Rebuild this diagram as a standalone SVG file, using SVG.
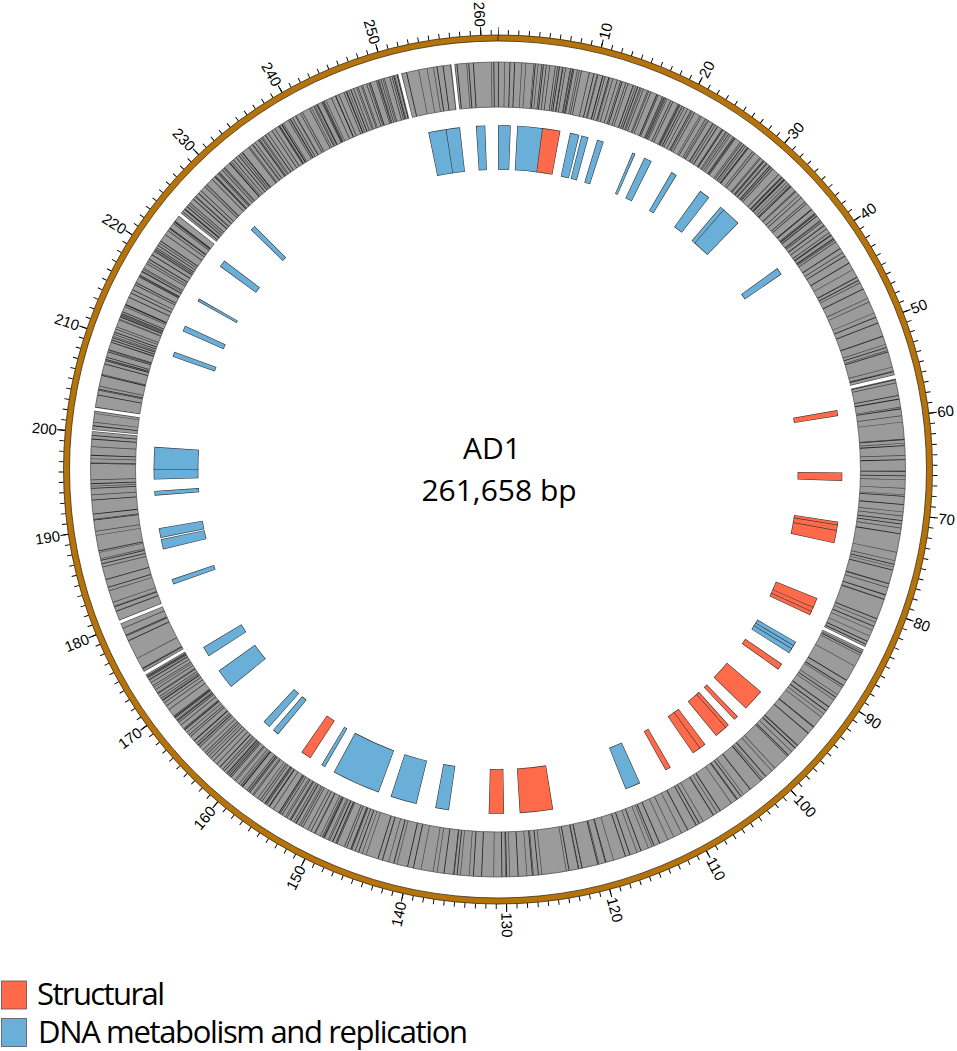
<svg xmlns="http://www.w3.org/2000/svg" width="957" height="1051" viewBox="0 0 957 1051">
<style>
.o{fill:none;stroke:#333;stroke-width:44.7}
.r{fill:none;stroke:#ff6a4b;stroke-width:43.5}
.b{fill:none;stroke:#6aafd8;stroke-width:43.5}
.lab{font-family:"Liberation Sans",Arial,sans-serif;font-size:15px;fill:#000;dominant-baseline:central}
.ls{text-anchor:start}
.le{text-anchor:end}
.big{font-family:"Open Sans","Noto Sans",sans-serif;font-size:30px;fill:#000;text-anchor:middle}
.leg{font-family:"Open Sans","Noto Sans",sans-serif;font-size:31px;fill:#000}
</style>
<defs>
<circle id="fc" cx="498" cy="469.5" r="322" pathLength="360" transform="rotate(-90 498 469.5)"/>
<circle id="gc" cx="498" cy="469.5" r="385" pathLength="261.658" transform="rotate(-90 498 469.5)"/>
<circle id="gd" cx="498" cy="469.5" r="385" pathLength="360" transform="rotate(-90 498 469.5)"/>
<clipPath id="dense">
<polygon points="498,469.5 537.2,21.2 733.1,85.8 879.6,231.0"/>
<polygon points="498,469.5 63.3,353.0 179.8,151.3 381.5,34.8"/>
<polygon points="498,469.5 344.1,892.4 208.7,814.2 108.3,694.5"/>
</clipPath>
</defs>
<rect width="957" height="1051" fill="#fff"/>

<g id="scale">
<circle cx="498" cy="469.5" r="437" pathLength="261.658" transform="rotate(-90 498 469.5)" fill="none" stroke="#000" stroke-width="5" stroke-dasharray="0.09 0.91" stroke-dashoffset="0.045"/>
<circle cx="498" cy="469.5" r="438.5" pathLength="261.658" transform="rotate(-90 498 469.5)" fill="none" stroke="#000" stroke-width="8" stroke-dasharray="0.1 9.9" stroke-dashoffset="0.05"/>
<circle cx="498" cy="469.5" r="431.5" fill="none" stroke="#b5730c" stroke-width="6"/>
<circle cx="498" cy="469.5" r="428.5" fill="none" stroke="#3b2a12" stroke-width="0.8"/>
<circle cx="498" cy="469.5" r="434.5" fill="none" stroke="#3b2a12" stroke-width="0.8"/>
<line x1="498" y1="35" x2="498" y2="41" stroke="#3b2a12" stroke-width="1"/>
<g class="lab">
<text class="ls" x="941" y="469.5" transform="rotate(-76.242 498 469.5)">10</text>
<text class="ls" x="941" y="469.5" transform="rotate(-62.483 498 469.5)">20</text>
<text class="ls" x="941" y="469.5" transform="rotate(-48.725 498 469.5)">30</text>
<text class="ls" x="941" y="469.5" transform="rotate(-34.967 498 469.5)">40</text>
<text class="ls" x="941" y="469.5" transform="rotate(-21.208 498 469.5)">50</text>
<text class="ls" x="941" y="469.5" transform="rotate(-7.45 498 469.5)">60</text>
<text class="ls" x="941" y="469.5" transform="rotate(6.308 498 469.5)">70</text>
<text class="ls" x="941" y="469.5" transform="rotate(20.067 498 469.5)">80</text>
<text class="ls" x="941" y="469.5" transform="rotate(33.825 498 469.5)">90</text>
<text class="ls" x="941" y="469.5" transform="rotate(47.583 498 469.5)">100</text>
<text class="ls" x="941" y="469.5" transform="rotate(61.342 498 469.5)">110</text>
<text class="ls" x="941" y="469.5" transform="rotate(75.1 498 469.5)">120</text>
<text class="ls" x="941" y="469.5" transform="rotate(88.858 498 469.5)">130</text>
<text class="le" x="55" y="469.5" transform="rotate(282.617 498 469.5)">140</text>
<text class="le" x="55" y="469.5" transform="rotate(296.375 498 469.5)">150</text>
<text class="le" x="55" y="469.5" transform="rotate(310.133 498 469.5)">160</text>
<text class="le" x="55" y="469.5" transform="rotate(323.892 498 469.5)">170</text>
<text class="le" x="55" y="469.5" transform="rotate(337.65 498 469.5)">180</text>
<text class="le" x="55" y="469.5" transform="rotate(351.408 498 469.5)">190</text>
<text class="le" x="55" y="469.5" transform="rotate(5.167 498 469.5)">200</text>
<text class="le" x="55" y="469.5" transform="rotate(18.925 498 469.5)">210</text>
<text class="le" x="55" y="469.5" transform="rotate(32.683 498 469.5)">220</text>
<text class="le" x="55" y="469.5" transform="rotate(46.442 498 469.5)">230</text>
<text class="le" x="55" y="469.5" transform="rotate(60.2 498 469.5)">240</text>
<text class="le" x="55" y="469.5" transform="rotate(73.958 498 469.5)">250</text>
<text class="le" x="55" y="469.5" transform="rotate(87.717 498 469.5)">260</text>
</g>
</g>

<g id="genes">
<circle cx="498" cy="469.5" r="385" fill="none" stroke="#9b9b9b" stroke-width="45"/>
<use href="#gc" fill="none" stroke="#222" stroke-width="45" stroke-dasharray="0.09 1.11 0.09 0.39 0.09 2.01 0.09 0.75 0.09 1.57 0.09 0.27 0.09 0.91 0.09 3.08 0.09 0.53 0.09 1.35"/>
<use href="#gc" fill="none" stroke="#444" stroke-width="45" stroke-dasharray="0.07 0.59 0.07 1.69 0.07 0.35 0.07 1.17 0.07 2.45 0.07 0.81"/>
<g clip-path="url(#dense)">
<use href="#gc" fill="none" stroke="#2a2a2a" stroke-width="45" stroke-dasharray="0.07 0.29 0.07 0.5 0.07 0.17 0.07 0.75 0.07 0.41"/>
</g>
<circle cx="498" cy="469.5" r="362.5" fill="none" stroke="#555" stroke-width="0.8"/>
<circle cx="498" cy="469.5" r="407.5" fill="none" stroke="#555" stroke-width="0.8"/>
<use href="#gd" fill="none" stroke="#444" stroke-width="45" stroke-dasharray="0 76.5 0.7 38.5 0.65 123.35 0.65 7.35 0.65 26.95 0.4 2.5 0.65 29.55 0.65 36.65 0.65 6.95 0.65 6.05"/>
<use href="#gd" fill="none" stroke="#fff" stroke-width="48" stroke-dasharray="0 76.6 0.5 38.7 0.45 123.55 0.45 7.55 0.45 27.15 0.2 2.7 0.45 29.75 0.45 36.85 0.45 7.15 0.45 6.15"/>
</g>

<g id="features">
<g id="f01"><use href="#fc" class="o" stroke-dasharray="3.15 999" stroke-dashoffset="-348.3"/><use href="#fc" class="b" stroke-dasharray="2.95 999" stroke-dashoffset="-348.4"/></g>
<g id="f02"><use href="#fc" class="o" stroke-dasharray="2.4 999" stroke-dashoffset="-351.25"/><use href="#fc" class="b" stroke-dasharray="2.2 999" stroke-dashoffset="-351.35"/></g>
<g id="f03"><use href="#fc" class="o" stroke-dasharray="1.55 999" stroke-dashoffset="-356.3"/><use href="#fc" class="b" stroke-dasharray="1.35 999" stroke-dashoffset="-356.4"/></g>
<g id="f04"><use href="#fc" class="o" stroke-dasharray="2.15 999" stroke-dashoffset="0"/><use href="#fc" class="b" stroke-dasharray="1.95 999" stroke-dashoffset="-0.1"/></g>
<g id="f05"><use href="#fc" class="o" stroke-dasharray="4.37 999" stroke-dashoffset="-3.23"/><use href="#fc" class="b" stroke-dasharray="4.17 999" stroke-dashoffset="-3.33"/></g>
<g id="f06"><use href="#fc" class="o" stroke-dasharray="3.05 999" stroke-dashoffset="-7.4"/><use href="#fc" class="r" stroke-dasharray="2.85 999" stroke-dashoffset="-7.5"/></g>
<g id="f07"><use href="#fc" class="o" stroke-dasharray="1.6 999" stroke-dashoffset="-12.1"/><use href="#fc" class="b" stroke-dasharray="1.4 999" stroke-dashoffset="-12.2"/></g>
<g id="f08"><use href="#fc" class="o" stroke-dasharray="1.2 999" stroke-dashoffset="-14.05"/><use href="#fc" class="b" stroke-dasharray="1.0 999" stroke-dashoffset="-14.15"/></g>
<g id="f09"><use href="#fc" class="o" stroke-dasharray="1.15 999" stroke-dashoffset="-16.75"/><use href="#fc" class="b" stroke-dasharray="0.95 999" stroke-dashoffset="-16.85"/></g>
<g id="f10"><use href="#fc" class="o" stroke-dasharray="0.55 999" stroke-dashoffset="-23"/><use href="#fc" class="b" stroke-dasharray="0.35 999" stroke-dashoffset="-23.1"/></g>
<g id="f11"><use href="#fc" class="o" stroke-dasharray="1.35 999" stroke-dashoffset="-25.16"/><use href="#fc" class="b" stroke-dasharray="1.15 999" stroke-dashoffset="-25.26"/></g>
<g id="f12"><use href="#fc" class="o" stroke-dasharray="1.0 999" stroke-dashoffset="-30.27"/><use href="#fc" class="b" stroke-dasharray="0.8 999" stroke-dashoffset="-30.37"/></g>
<g id="f13"><use href="#fc" class="o" stroke-dasharray="1.85 999" stroke-dashoffset="-35.99"/><use href="#fc" class="b" stroke-dasharray="1.65 999" stroke-dashoffset="-36.09"/></g>
<g id="f14"><use href="#fc" class="o" stroke-dasharray="0.9 999" stroke-dashoffset="-40.25"/><use href="#fc" class="b" stroke-dasharray="0.7 999" stroke-dashoffset="-40.35"/></g>
<g id="f15"><use href="#fc" class="o" stroke-dasharray="3.35 999" stroke-dashoffset="-40.95"/><use href="#fc" class="b" stroke-dasharray="3.15 999" stroke-dashoffset="-41.05"/></g>
<g id="f16"><use href="#fc" class="o" stroke-dasharray="1.25 999" stroke-dashoffset="-54.2"/><use href="#fc" class="b" stroke-dasharray="1.05 999" stroke-dashoffset="-54.3"/></g>
<g id="f17"><use href="#fc" class="o" stroke-dasharray="1.0 999" stroke-dashoffset="-80.06"/><use href="#fc" class="r" stroke-dasharray="0.8 999" stroke-dashoffset="-80.16"/></g>
<g id="f18"><use href="#fc" class="o" stroke-dasharray="1.45 999" stroke-dashoffset="-90.5"/><use href="#fc" class="r" stroke-dasharray="1.25 999" stroke-dashoffset="-90.6"/></g>
<g id="f19"><use href="#fc" class="o" stroke-dasharray="0.7 999" stroke-dashoffset="-98.75"/><use href="#fc" class="r" stroke-dasharray="0.5 999" stroke-dashoffset="-98.85"/></g>
<g id="f20"><use href="#fc" class="o" stroke-dasharray="1.1 999" stroke-dashoffset="-99.25"/><use href="#fc" class="r" stroke-dasharray="0.9 999" stroke-dashoffset="-99.35"/></g>
<g id="f21"><use href="#fc" class="o" stroke-dasharray="2.25 999" stroke-dashoffset="-100.15"/><use href="#fc" class="r" stroke-dasharray="2.05 999" stroke-dashoffset="-100.25"/></g>
<g id="f22"><use href="#fc" class="o" stroke-dasharray="1.85 999" stroke-dashoffset="-111.95"/><use href="#fc" class="r" stroke-dasharray="1.65 999" stroke-dashoffset="-112.05"/></g>
<g id="f23"><use href="#fc" class="o" stroke-dasharray="0.9 999" stroke-dashoffset="-113.6"/><use href="#fc" class="r" stroke-dasharray="0.7 999" stroke-dashoffset="-113.7"/></g>
<g id="f24"><use href="#fc" class="o" stroke-dasharray="0.75 999" stroke-dashoffset="-114.3"/><use href="#fc" class="r" stroke-dasharray="0.55 999" stroke-dashoffset="-114.4"/></g>
<g id="f25"><use href="#fc" class="o" stroke-dasharray="0.9 999" stroke-dashoffset="-120.05"/><use href="#fc" class="b" stroke-dasharray="0.7 999" stroke-dashoffset="-120.15"/></g>
<g id="f26"><use href="#fc" class="o" stroke-dasharray="0.8 999" stroke-dashoffset="-120.75"/><use href="#fc" class="b" stroke-dasharray="0.6 999" stroke-dashoffset="-120.85"/></g>
<g id="f27"><use href="#fc" class="o" stroke-dasharray="0.9 999" stroke-dashoffset="-121.35"/><use href="#fc" class="b" stroke-dasharray="0.7 999" stroke-dashoffset="-121.45"/></g>
<g id="f28"><use href="#fc" class="o" stroke-dasharray="1.15 999" stroke-dashoffset="-124.4"/><use href="#fc" class="r" stroke-dasharray="0.95 999" stroke-dashoffset="-124.5"/></g>
<g id="f29"><use href="#fc" class="o" stroke-dasharray="3.8 999" stroke-dashoffset="-130.18"/><use href="#fc" class="r" stroke-dasharray="3.6 999" stroke-dashoffset="-130.28"/></g>
<g id="f30"><use href="#fc" class="o" stroke-dasharray="0.8 999" stroke-dashoffset="-135.84"/><use href="#fc" class="r" stroke-dasharray="0.6 999" stroke-dashoffset="-135.94"/></g>
<g id="f31"><use href="#fc" class="o" stroke-dasharray="0.8 999" stroke-dashoffset="-137.9"/><use href="#fc" class="r" stroke-dasharray="0.6 999" stroke-dashoffset="-138"/></g>
<g id="f32"><use href="#fc" class="o" stroke-dasharray="2.2 999" stroke-dashoffset="-138.5"/><use href="#fc" class="r" stroke-dasharray="2.0 999" stroke-dashoffset="-138.6"/></g>
<g id="f33"><use href="#fc" class="o" stroke-dasharray="1.25 999" stroke-dashoffset="-142.96"/><use href="#fc" class="r" stroke-dasharray="1.05 999" stroke-dashoffset="-143.06"/></g>
<g id="f34"><use href="#fc" class="o" stroke-dasharray="1.5 999" stroke-dashoffset="-144.01"/><use href="#fc" class="r" stroke-dasharray="1.3 999" stroke-dashoffset="-144.11"/></g>
<g id="f35"><use href="#fc" class="o" stroke-dasharray="1.0 999" stroke-dashoffset="-149.88"/><use href="#fc" class="r" stroke-dasharray="0.8 999" stroke-dashoffset="-149.98"/></g>
<g id="f36"><use href="#fc" class="o" stroke-dasharray="2.65 999" stroke-dashoffset="-155.6"/><use href="#fc" class="b" stroke-dasharray="2.45 999" stroke-dashoffset="-155.7"/></g>
<g id="f37"><use href="#fc" class="o" stroke-dasharray="5.6 999" stroke-dashoffset="-170.76"/><use href="#fc" class="r" stroke-dasharray="5.4 999" stroke-dashoffset="-170.86"/></g>
<g id="f38"><use href="#fc" class="o" stroke-dasharray="2.6 999" stroke-dashoffset="-178.97"/><use href="#fc" class="r" stroke-dasharray="2.4 999" stroke-dashoffset="-179.07"/></g>
<g id="f39"><use href="#fc" class="o" stroke-dasharray="2.3 999" stroke-dashoffset="-188.21"/><use href="#fc" class="b" stroke-dasharray="2.1 999" stroke-dashoffset="-188.31"/></g>
<g id="f40"><use href="#fc" class="o" stroke-dasharray="4.48 999" stroke-dashoffset="-193.71"/><use href="#fc" class="b" stroke-dasharray="4.28 999" stroke-dashoffset="-193.81"/></g>
<g id="f41"><use href="#fc" class="o" stroke-dasharray="8.2 999" stroke-dashoffset="-200.3"/><use href="#fc" class="b" stroke-dasharray="8.0 999" stroke-dashoffset="-200.4"/></g>
<g id="f42"><use href="#fc" class="o" stroke-dasharray="0.7 999" stroke-dashoffset="-210.18"/><use href="#fc" class="b" stroke-dasharray="0.5 999" stroke-dashoffset="-210.28"/></g>
<g id="f43"><use href="#fc" class="o" stroke-dasharray="1.8 999" stroke-dashoffset="-213.02"/><use href="#fc" class="r" stroke-dasharray="1.6 999" stroke-dashoffset="-213.12"/></g>
<g id="f44"><use href="#fc" class="o" stroke-dasharray="1.1 999" stroke-dashoffset="-219.7"/><use href="#fc" class="b" stroke-dasharray="0.9 999" stroke-dashoffset="-219.8"/></g>
<g id="f45"><use href="#fc" class="o" stroke-dasharray="1.3 999" stroke-dashoffset="-221.6"/><use href="#fc" class="b" stroke-dasharray="1.1 999" stroke-dashoffset="-221.7"/></g>
<g id="f46"><use href="#fc" class="o" stroke-dasharray="3.4 999" stroke-dashoffset="-230.82"/><use href="#fc" class="b" stroke-dasharray="3.2 999" stroke-dashoffset="-230.92"/></g>
<g id="f47"><use href="#fc" class="o" stroke-dasharray="1.75 999" stroke-dashoffset="-237.14"/><use href="#fc" class="b" stroke-dasharray="1.55 999" stroke-dashoffset="-237.24"/></g>
<g id="f48"><use href="#fc" class="o" stroke-dasharray="0.9 999" stroke-dashoffset="-250.49"/><use href="#fc" class="b" stroke-dasharray="0.7 999" stroke-dashoffset="-250.59"/></g>
<g id="f49"><use href="#fc" class="o" stroke-dasharray="1.75 999" stroke-dashoffset="-256.56"/><use href="#fc" class="b" stroke-dasharray="1.55 999" stroke-dashoffset="-256.66"/></g>
<g id="f50"><use href="#fc" class="o" stroke-dasharray="1.65 999" stroke-dashoffset="-258.51"/><use href="#fc" class="b" stroke-dasharray="1.45 999" stroke-dashoffset="-258.61"/></g>
<g id="f51"><use href="#fc" class="o" stroke-dasharray="0.8 999" stroke-dashoffset="-265.62"/><use href="#fc" class="b" stroke-dasharray="0.6 999" stroke-dashoffset="-265.72"/></g>
<g id="f52"><use href="#fc" class="o" stroke-dasharray="1.9 999" stroke-dashoffset="-268.3"/><use href="#fc" class="b" stroke-dasharray="1.7 999" stroke-dashoffset="-268.4"/></g>
<g id="f53"><use href="#fc" class="o" stroke-dasharray="3.8 999" stroke-dashoffset="-270"/><use href="#fc" class="b" stroke-dasharray="3.6 999" stroke-dashoffset="-270.1"/></g>
<g id="f54"><use href="#fc" class="o" stroke-dasharray="0.9 999" stroke-dashoffset="-289.11"/><use href="#fc" class="b" stroke-dasharray="0.7 999" stroke-dashoffset="-289.21"/></g>
<g id="f55"><use href="#fc" class="o" stroke-dasharray="1.0 999" stroke-dashoffset="-293.69"/><use href="#fc" class="b" stroke-dasharray="0.8 999" stroke-dashoffset="-293.79"/></g>
<g id="f56"><use href="#fc" class="o" stroke-dasharray="0.5 999" stroke-dashoffset="-299.27"/><use href="#fc" class="b" stroke-dasharray="0.3 999" stroke-dashoffset="-299.37"/></g>
<g id="f57"><use href="#fc" class="o" stroke-dasharray="1.25 999" stroke-dashoffset="-306.14"/><use href="#fc" class="b" stroke-dasharray="1.05 999" stroke-dashoffset="-306.24"/></g>
<g id="f58"><use href="#fc" class="o" stroke-dasharray="0.9 999" stroke-dashoffset="-314.11"/><use href="#fc" class="b" stroke-dasharray="0.7 999" stroke-dashoffset="-314.21"/></g>
</g>

<g id="title">
<text class="big" x="492" y="459">AD1</text>
<text class="big" x="499" y="501">261,658 bp</text>
</g>

<g id="legend">
<rect x="1.5" y="981" width="25" height="28" fill="#ff6a4b" stroke="#555" stroke-width="0.8"/>
<rect x="1.5" y="1018.5" width="25" height="28" fill="#6aafd8" stroke="#555" stroke-width="0.8"/>
<text class="leg" x="37" y="1005" textLength="128">Structural</text>
<text class="leg" x="38" y="1043" textLength="430">DNA metabolism and replication</text>
</g>
</svg>
